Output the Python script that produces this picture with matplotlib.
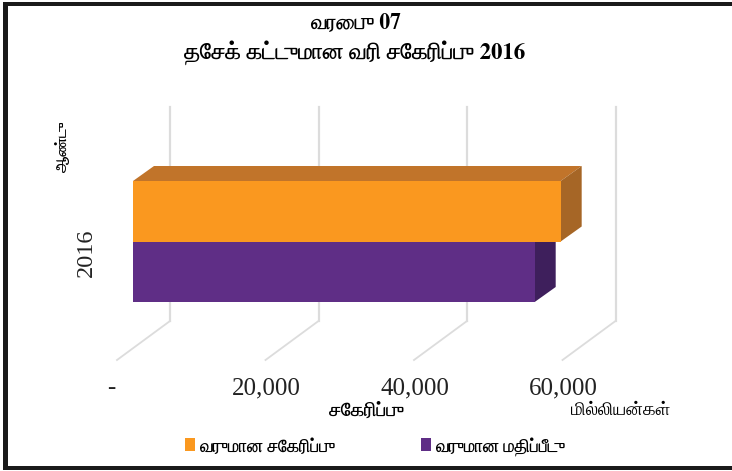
import matplotlib
matplotlib.use('Agg')
import matplotlib.pyplot as plt
from matplotlib.patches import Polygon, Rectangle

W, H = 732, 471

categories = ['2016']
series_names = ['வருமான சேகரிப்பு', 'வருமான மதிப்பீடு']
revenue_collection = [57600]
revenue_estimate = [54100]
x_ticks = [0, 20000, 40000, 60000]
x_tick_labels = ['-  ', '20,000', '40,000', '60,000']
title_lines = ['வரைபு 07', 'தேசக் கட்டுமான வரி சேகரிப்பு 2016']
x_label = 'சேகரிப்பு'
y_label = 'ஆண்டு'
unit_label = 'மில்லியன்கள்'

# pixel scale of the front plane
px_x = 20000 / 148.5
px_y = 1 / 60.5
x0_px, y0_px = 133, 302


def to_x(px):
    return (px - x0_px) * px_x


def to_y(px):
    return (y0_px - px) * px_y


def shade(ax, v0, v1, y0, y1, dx, dy, front, top, side):
    """Draw one bar with fake 3D top and side faces."""
    ax.add_patch(Polygon([(v0, y1), (v0 + dx, y1 + dy), (v1 + dx, y1 + dy), (v1, y1)], color=top, lw=0, zorder=3))
    ax.add_patch(Polygon([(v1, y0), (v1 + dx, y0 + dy), (v1 + dx, y1 + dy), (v1, y1)], color=side, lw=0, zorder=3))
    ax.add_patch(Rectangle((v0, y0), v1 - v0, y1 - y0, color=front, lw=0, zorder=4))


fig = plt.figure(figsize=(W / 100, H / 100), dpi=100)
ax = fig.add_axes([0, 0, 1, 1])
ax.set_xlim(to_x(0), to_x(W))
ax.set_ylim(to_y(H), to_y(0))
ax.axis('off')

serif = ['Liberation Serif', 'FreeSerif', 'DejaVu Sans']
tamil = ['FreeSerif', 'Liberation Serif', 'DejaVu Sans']

# back wall and floor lines
grid = '#dcdcdc'
wall_dx = 37 * px_x
front_dx = -16 * px_x
for t in x_ticks:
    ax.plot([t + wall_dx, t + wall_dx], [to_y(321), to_y(107)], color=grid, lw=1.6, zorder=1)
    ax.plot([t + wall_dx, t + front_dx], [to_y(321), to_y(360)], color=grid, lw=1.3, zorder=1)

# bars
dx = 21 * px_x
dy = 15 * px_y
shade(ax, 0, revenue_estimate[0], 0, 1, dx, dy, '#5f2e86', '#4a2468', '#3e1f5c')
shade(ax, 0, revenue_collection[0], 1, 2, dx, dy, '#fa981f', '#c1742a', '#a66626')

# tick labels
for t, lab in zip(x_ticks, x_tick_labels):
    ax.text(t + front_dx + 1 * px_x, to_y(388), lab, ha='center', va='center', fontsize=18, family=serif, color='#222222')
ax.text(to_x(86), to_y(253), categories[0], rotation=90, ha='center', va='center', fontsize=17.5, family=serif, color='#222222')

# titles
ax.text(to_x(355), to_y(23), title_lines[0], ha='center', va='center', fontsize=15.5, family=tamil, weight='bold')
ax.text(to_x(355), to_y(53), title_lines[1], ha='center', va='center', fontsize=16.4, family=tamil, weight='bold')
ax.text(to_x(62), to_y(147), y_label, rotation=90, ha='center', va='center', fontsize=11, family=tamil, weight='bold')
ax.text(to_x(366), to_y(411), x_label, ha='center', va='center', fontsize=14, family=tamil, weight='bold')
ax.text(to_x(621), to_y(411), unit_label, ha='center', va='center', fontsize=13.2, family=tamil)

# legend
for name, col, sx in zip(series_names, ['#fa981f', '#5f2e86'], [185, 421]):
    ax.add_patch(Rectangle((to_x(sx), to_y(451)), 10 * px_x, 13 * px_y, color=col, lw=0))
    ax.text(to_x(sx + 14), to_y(447), name, ha='left', va='center', fontsize=12.7, family=tamil, weight='bold')

# frame: left, top and bottom only, the reference has no right edge
frame = '#1a1a1a'
ax.add_patch(Rectangle((to_x(3), to_y(470)), 5 * px_x, 468 * px_y, color=frame, lw=0))
ax.add_patch(Rectangle((to_x(3), to_y(5.5)), 729 * px_x, 3.5 * px_y, color=frame, lw=0))
ax.add_patch(Rectangle((to_x(3), to_y(470)), 729 * px_x, 4 * px_y, color=frame, lw=0))

fig.savefig('out.png', dpi=100)
